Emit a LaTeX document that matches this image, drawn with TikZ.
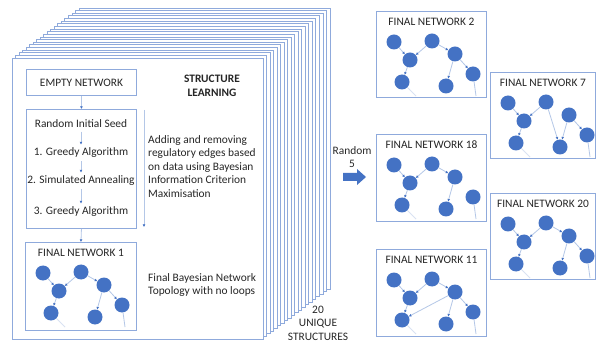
\documentclass[tikz,border=0pt]{standalone}
\usepackage{fontspec}
\setmainfont{Carlito}
\usetikzlibrary{arrows.meta,calc}
\definecolor{nodeblue}{HTML}{4472C4}
\definecolor{edgeblue}{HTML}{B4C7E7}
\definecolor{frameblue}{HTML}{8FAADC}
\definecolor{textgray}{HTML}{262626}

\tikzset{
  page/.style={draw=frameblue, line width=0.8pt, fill=white},
  frame/.style={draw=frameblue, line width=0.9pt, fill=white, inner sep=0pt, anchor=north west},
  label/.style={font=\fontsize{11.4}{13.6}\selectfont, text=textgray},
  netnode/.style={circle, fill=nodeblue, minimum size=15pt, inner sep=0pt},
  netedge/.style={draw=edgeblue, line width=0.8pt, -{Latex[length=2.6pt,width=2.8pt,color=nodeblue]}},
  loose/.style={draw=edgeblue, line width=0.8pt},
  flow/.style={draw=edgeblue, line width=0.8pt, -{Latex[length=2.6pt,width=2.8pt,color=nodeblue]}},
}

% seven network nodes placed inside a framed box called #1
\newcommand\netnodes[1]{%
  \foreach \i/\dx/\dy in {1/18/31,2/56/30,3/34/49,4/79/43,5/97/63,6/26/71,7/70/75}
    \node[netnode] (#1-\i) at ($(#1.north west)+(\dx,\dy)$) {};
  \coordinate (#1-e5) at ($(#1.north west)+(100,85)$);
  \coordinate (#1-e6) at ($(#1.north west)+(40,85)$);
  \draw[loose] (#1-5) -- (#1-e5);
  \draw[loose, opacity=0.5] (#1-6) -- (#1-e6);
}

\begin{document}
\begin{tikzpicture}[x=1pt,y=-1pt]
\useasboundingbox (0,0) rectangle (596,344);

% stack of twenty result pages, back to front
\foreach \k in {19,18,...,0}
  \draw[page] ($(12,58)+(\k*3.526,-\k*2.632)$) rectangle +(251,281);

% structure learning pipeline
\node[frame, minimum width=110pt, minimum height=26pt] (empty) at (26,69) {};
\node[label] at (empty.center) {EMPTY NETWORK};
\node[label, font=\fontsize{11.4}{13.6}\selectfont\bfseries, align=center] (sl) at (212,86) {STRUCTURE\\LEARNING};

\node[frame, minimum width=110pt, minimum height=119pt] (loop) at (26,109) {};
\node[label] (s0) at (81,124) {Random Initial Seed};
\node[label] (s1) at (81,153) {1. Greedy Algorithm};
\node[label] (s2) at (81,181) {2. Simulated Annealing};
\node[label] (s3) at (81,212) {3. Greedy Algorithm};
\draw[flow] (empty) -- (loop);
\draw[flow] (s0) -- (s1);
\draw[flow] (s1) -- (s2);
\draw[flow] (s2) -- (s3);

\coordinate (side-top) at (144,110);
\coordinate (side-bot) at (144,227);
\draw[flow] (side-top) -- (side-bot);
\node[label, anchor=north west, align=left, inner sep=0pt] (desc) at (148,135)
  {Adding and removing\\regulatory edges based\\on data using Bayesian\\Information Criterion\\Maximisation};

\node[frame, minimum width=111pt, minimum height=88pt] (fn1) at (25,242) {};
\node[label] at ($(fn1.north)+(0,11)$) {FINAL NETWORK 1};
\draw[flow] (loop.south) -- (fn1.north);
\node[label, anchor=north west, align=left, inner sep=0pt] (topo) at (148,273)
  {Final Bayesian Network\\Topology with no loops};

\node[label, align=center] (uniq) at (318,323) {20\\UNIQUE\\STRUCTURES};

% random selection arrow
\node[label, align=center] (rand) at (352,157) {Random\\5};
\fill[nodeblue] (343,173) -- (357,173) -- (357,169) -- (366,177) -- (357,185) -- (357,181) -- (343,181) -- cycle;

% selected final networks
\node[frame, minimum width=110pt, minimum height=86pt] (fn2) at (376,11) {};
\node[label] at ($(fn2.north)+(0,11)$) {FINAL NETWORK 2};
\node[frame, minimum width=105pt, minimum height=86pt] (fn7) at (490,72) {};
\node[label] at ($(fn7.north)+(0,11)$) {FINAL NETWORK 7};
\node[frame, minimum width=110pt, minimum height=87pt] (fn18) at (376,134) {};
\node[label] at ($(fn18.north)+(0,11)$) {FINAL NETWORK 18};
\node[frame, minimum width=105pt, minimum height=86pt] (fn20) at (490,193) {};
\node[label] at ($(fn20.north)+(0,11)$) {FINAL NETWORK 20};
\node[frame, minimum width=110pt, minimum height=87pt] (fn11) at (376,249) {};
\node[label] at ($(fn11.north)+(0,11)$) {FINAL NETWORK 11};

\netnodes{fn1}
\netnodes{fn2}
\netnodes{fn7}
\netnodes{fn18}
\netnodes{fn20}
\netnodes{fn11}

% edges of each network
\foreach \n in {fn1,fn2,fn20,fn11}{
  \draw[netedge] (\n-1) -- (\n-3);
  \draw[netedge] (\n-2) -- (\n-3);
  \draw[netedge] (\n-2) -- (\n-4);
  \draw[netedge] (\n-3) -- (\n-6);
  \draw[netedge] (\n-4) -- (\n-7);
  \draw[netedge] (\n-4) -- (\n-5);
}
\draw[netedge] (fn11-4) -- (fn11-6);

\draw[netedge] (fn7-1) -- (fn7-3);
\draw[netedge] (fn7-2) -- (fn7-3);
\draw[netedge] (fn7-3) -- (fn7-6);
\draw[netedge] (fn7-2) -- (fn7-7);
\draw[netedge] (fn7-4) -- (fn7-7);
\draw[netedge] (fn7-4) -- (fn7-5);

\draw[netedge] (fn18-1) -- (fn18-3);
\draw[netedge] (fn18-2) -- (fn18-3);
\draw[netedge] (fn18-2) -- (fn18-4);
\draw[netedge] (fn18-3) -- (fn18-6);
\draw[netedge] (fn18-4) -- (fn18-7);
\end{tikzpicture}
\end{document}
